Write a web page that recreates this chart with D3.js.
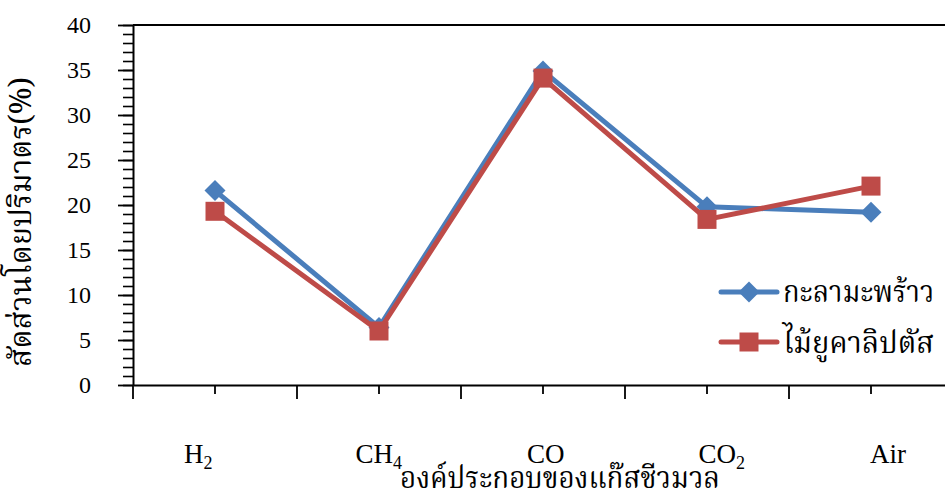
<!DOCTYPE html>
<html>
<head>
<meta charset="utf-8">
<script src="https://cdn.jsdelivr.net/npm/d3@7"></script>
<style>
  html, body { margin: 0; padding: 0; background: #fff; }
  svg { display: block; }
  .thai { font-family: "Angsana New", "Kinnari", "Norasi", "Noto Serif Thai", "TH Sarabun New", "Garuda", "Loma", "Noto Sans Thai", "DejaVu Sans", sans-serif; }
  .num { font-family: "Liberation Serif", "Times New Roman", serif; }
</style>
</head>
<body>
<svg id="chart" width="945" height="491"></svg>
<script>
// Biogas composition by volume for two fuel types
const categories = ["H2", "CH4", "CO", "CO2", "Air"];
const categoryLabels = [["H", "2"], ["CH", "4"], ["CO", ""], ["CO", "2"], ["Air", ""]];
const coconutShell = [21.6, 6.4, 34.9, 19.8, 19.2];   // กะลามะพร้าว
const eucalyptus   = [19.3, 6.0, 34.1, 18.4, 22.1];   // ไม้ยูคาลิปตัส
const seriesNames = ["กะลามะพร้าว", "ไม้ยูคาลิปตัส"];
const yMajorTicks = [0, 5, 10, 15, 20, 25, 30, 35, 40];
const yTitle = "สัดส่วนโดยปริมาตร(%)";
const xTitle = "องค์ประกอบของแก๊สชีวมวล";

const svg = d3.select("#chart");
const plotLeft = 133, plotRight = 953, plotTop = 25, plotBottom = 385;

const x = d3.scaleBand().domain(categories).range([plotLeft, plotRight]).padding(0);
const cx = d => x(d) + x.bandwidth() / 2;
const y = d3.scaleLinear().domain([0, 40]).range([plotBottom, plotTop]);

// frame top edge
svg.append("line")
  .attr("x1", plotLeft).attr("x2", plotRight).attr("y1", plotTop).attr("y2", plotTop)
  .attr("stroke", "#000").attr("stroke-width", 2);

// y axis: minor ticks every 1 unit, major every 5 with labels
svg.append("g")
  .attr("transform", `translate(${plotLeft},0)`)
  .call(d3.axisLeft(y).tickValues(d3.range(0, 41, 1)).tickSize(10).tickFormat(""))
  .call(g => g.select(".domain").remove())
  .call(g => g.selectAll("line").attr("stroke", "#000").attr("stroke-width", 1.6));

const yAxis = svg.append("g")
  .attr("transform", `translate(${plotLeft},0)`)
  .call(d3.axisLeft(y).tickValues(yMajorTicks).tickSize(15).tickPadding(27).tickSizeOuter(0));
yAxis.select(".domain").attr("stroke", "#000").attr("stroke-width", 2);
yAxis.selectAll("line").attr("stroke", "#000").attr("stroke-width", 1.8);
yAxis.selectAll("text")
  .attr("class", "num")
  .attr("font-size", 24)
  .attr("fill", "#000");

// x axis: short ticks at category centres, long ticks at category edges
const xAxis = svg.append("g")
  .attr("transform", `translate(0,${plotBottom})`)
  .call(d3.axisBottom(x).tickSize(9).tickFormat("").tickSizeOuter(0));
xAxis.select(".domain").attr("stroke", "#000").attr("stroke-width", 2);
xAxis.selectAll("line").attr("stroke", "#000").attr("stroke-width", 1.8);

const edges = categories.map(c => x(c)).concat([x.range()[1]]);
svg.append("g").selectAll("line").data(edges).join("line")
  .attr("x1", d => d).attr("x2", d => d)
  .attr("y1", plotBottom).attr("y2", plotBottom + 14)
  .attr("stroke", "#000").attr("stroke-width", 1.8);

// category labels with subscripts
const xLabel = d3.scalePoint().domain(categories).range([184, 870]);
const lbl = svg.append("g").selectAll("text").data(categories).join("text")
  .attr("class", "num")
  .attr("x", d => xLabel(d))
  .attr("y", 463)
  .attr("font-size", 27)
  .attr("fill", "#000");
lbl.append("tspan").text((d, i) => categoryLabels[i][0]);
lbl.append("tspan")
  .attr("font-size", 18)
  .attr("dy", 6)
  .text((d, i) => categoryLabels[i][1]);

// series
const series = [
  { name: seriesNames[0], values: coconutShell, color: "#4a7ebb", marker: "diamond" },
  { name: seriesNames[1], values: eucalyptus, color: "#be4b48", marker: "square" }
];

const line = d3.line().x((d, i) => cx(categories[i])).y(d => y(d));
const markerPath = (type) => type === "diamond"
  ? "M0,-10.5L10.5,0L0,10.5L-10.5,0Z"
  : "M-9.5,-9.5H9.5V9.5H-9.5Z";

series.forEach(s => {
  const g = svg.append("g");
  g.append("path")
    .datum(s.values)
    .attr("d", line)
    .attr("fill", "none")
    .attr("stroke", s.color)
    .attr("stroke-width", 5)
    .attr("stroke-linejoin", "round");
  g.selectAll("path.mk").data(s.values).join("path")
    .attr("class", "mk")
    .attr("d", markerPath(s.marker))
    .attr("transform", (d, i) => `translate(${cx(categories[i])},${y(d)})`)
    .attr("fill", s.color);
});

// legend
const legendRows = [292, 342];
series.forEach((s, i) => {
  const ly = legendRows[i];
  svg.append("line")
    .attr("x1", 721).attr("x2", 777).attr("y1", ly).attr("y2", ly)
    .attr("stroke", s.color).attr("stroke-width", 5).attr("stroke-linecap", "round");
  svg.append("path")
    .attr("d", markerPath(s.marker))
    .attr("transform", `translate(749,${ly})`)
    .attr("fill", s.color);
  svg.append("text")
    .attr("class", "thai")
    .attr("x", 783).attr("y", ly + 10 + i * 1)
    .attr("font-size", 30)
    .attr("textLength", 151)
    .attr("lengthAdjust", "spacingAndGlyphs")
    .attr("fill", "#000")
    .text(s.name);
});

// axis titles
svg.append("text")
  .attr("class", "thai")
  .attr("transform", "translate(31,222) rotate(-90)")
  .attr("text-anchor", "middle")
  .attr("font-size", 30)
  .attr("textLength", 290)
  .attr("lengthAdjust", "spacingAndGlyphs")
  .attr("fill", "#000")
  .text(yTitle);

svg.append("text")
  .attr("class", "thai")
  .attr("x", 560).attr("y", 488)
  .attr("text-anchor", "middle")
  .attr("font-size", 30)
  .attr("textLength", 320)
  .attr("lengthAdjust", "spacingAndGlyphs")
  .attr("fill", "#000")
  .text(xTitle);
</script>
</body>
</html>
